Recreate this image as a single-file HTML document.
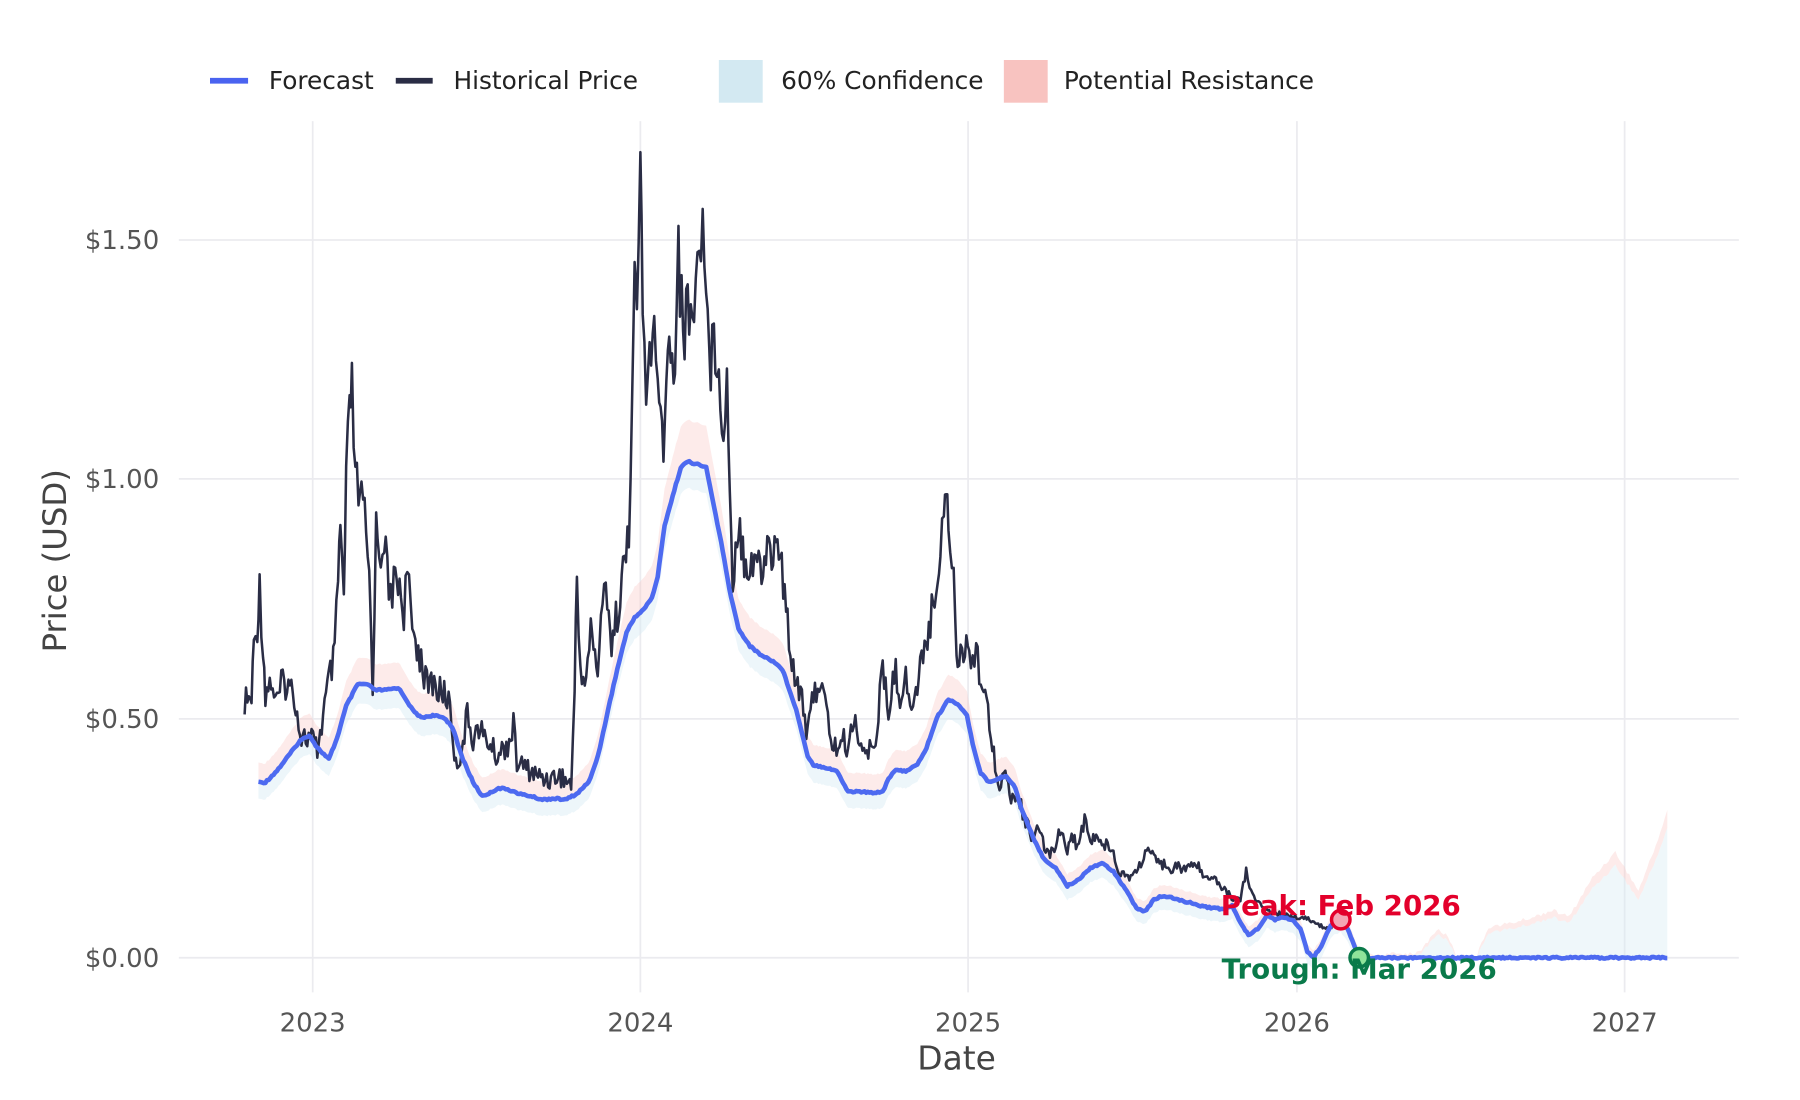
<!DOCTYPE html>
<html><head><meta charset="utf-8"><style>
html,body{margin:0;padding:0;background:#fff;}
svg{display:block;}
text{font-family:"DejaVu Sans","Liberation Sans",sans-serif;}
</style></head><body>
<svg id="s" width="1800" height="1100" viewBox="0 0 1560 953.3" preserveAspectRatio="none" xmlns="http://www.w3.org/2000/svg">
<rect width="1560" height="953.3" fill="#fff"/>
<g stroke="#ebebef" stroke-width="1.5">
<line x1="155" x2="1507" y1="830" y2="830"/><line x1="155" x2="1507" y1="623" y2="623"/>
<line x1="155" x2="1507" y1="415" y2="415"/><line x1="155" x2="1507" y1="208" y2="208"/>
<line x1="271" x2="271" y1="105" y2="860"/><line x1="555" x2="555" y1="105" y2="860"/>
<line x1="839" x2="839" y1="105" y2="860"/><line x1="1124" x2="1124" y1="105" y2="860"/>
<line x1="1408" x2="1408" y1="105" y2="860"/>
</g>
<g id="bands"></g>
<g id="lines"></g>
<g font-size="22.5" fill="#555" text-anchor="end">
<text x="138" y="838">$0.00</text><text x="138" y="631">$0.50</text>
<text x="138" y="423">$1.00</text><text x="138" y="216">$1.50</text>
</g>
<g font-size="22.5" fill="#555" text-anchor="middle">
<text x="271" y="894">2023</text><text x="555" y="894">2024</text><text x="839" y="894">2025</text>
<text x="1124" y="894">2026</text><text x="1408" y="894">2027</text>
</g>
<text x="829" y="927" font-size="28.5" fill="#444" text-anchor="middle">Date</text>
<text transform="translate(57,486) rotate(-90)" font-size="28" fill="#444" text-anchor="middle">Price (USD)</text>
<g font-size="21.5" fill="#222">
<line x1="182" x2="215" y1="70" y2="70" stroke="#4a63f0" stroke-width="5"/><text x="233" y="77">Forecast</text>
<line x1="343" x2="375" y1="70" y2="70" stroke="#2a2d45" stroke-width="5"/><text x="393" y="77">Historical Price</text>
<rect x="623" y="52" width="38" height="37" fill="#d3e9f2"/><text x="677" y="77">60% Confidence</text>
<rect x="870" y="52" width="38" height="37" fill="#f8c3c0"/><text x="922" y="77">Potential Resistance</text>
</g>
<g id="marks"></g>
</svg>
<script>
function rnd(s){var x=Math.sin(s*12.9898)*43758.5453;return x-Math.floor(x);}
function interp(k,step){var o=[];for(var i=0;i<k.length-1;i++){var a=k[i],b=k[i+1];var n=Math.max(1,Math.round((b[0]-a[0])/step));for(var j=0;j<n;j++){var t=j/n;o.push([a[0]+(b[0]-a[0])*t,a[1]+(b[1]-a[1])*t]);}}o.push(k[k.length-1]);return o;}
function pth(p){return "M"+p.map(function(q){return q[0].toFixed(1)+","+q[1].toFixed(1)}).join("L");}
var H=[[212,608],[218,606],[220,560],[223,540],[225,510],[228,560],[230,600],[235,590],[240,610],[245,590],[250,595],[255,600],[260,635],[265,640],[270,640],[275,650],[280,620],[285,590],[290,570],[293,500],[295,460],[298,520],[300,420],[303,360],[305,335],[308,420],[312,430],[316,450],[320,500],[323,590],[326,460],[330,480],[333,460],[337,520],[340,510],[345,500],[350,530],[353,490],[356,540],[360,555],[365,570],[370,595],[375,590],[380,600],[385,600],[390,610],[395,665],[400,650],[405,620],[410,640],[415,630],[420,640],[425,645],[430,655],[435,650],[440,645],[445,630],[448,660],[455,665],[465,672],[475,675],[485,672],[495,680],[498,600],[500,500],[503,580],[508,590],[512,545],[518,580],[525,495],[530,560],[535,530],[540,495],[545,470],[548,310],[550,260],[552,260],[555,140],[557,270],[560,350],[563,300],[567,290],[570,350],[575,380],[580,300],[585,310],[588,210],[592,300],[596,260],[600,270],[603,260],[606,200],[609,185],[612,260],[616,310],[620,300],[623,300],[627,390],[630,330],[635,500],[640,450],[645,480],[650,490],[655,480],[660,500],[665,470],[670,480],[675,470],[680,520],[685,560],[690,590],[695,600],[700,640],[705,600],[710,590],[715,610],[720,640],[725,650],[730,640],[735,650],[740,620],[745,640],[750,655],[755,650],[760,630],[765,580],[770,620],[775,580],[780,600],[785,590],[790,610],[795,600],[800,560],[805,545],[810,520],[815,470],[818,430],[820,420],[822,460],[825,480],[828,540],[830,570],[835,560],[840,560],[843,570],[846,555],[850,590],[855,610],[860,640],[865,680],[870,670],[875,690],[880,690],[885,700],[890,715],[895,725],[900,720],[905,735],[910,740],[915,730],[920,720],[925,735],[930,725],[935,735],[940,708],[945,730],[950,725],[955,735],[960,728],[965,740],[970,755],[975,758],[980,760],[985,755],[990,745],[995,735],[1000,745],[1005,750],[1010,748],[1015,752],[1020,750],[1025,755],[1030,750],[1035,748],[1040,753],[1045,760],[1050,758],[1055,765],[1060,770],[1065,775],[1070,780],[1075,778],[1080,755],[1083,770],[1088,780],[1095,785],[1100,790],[1110,792],[1120,795],[1130,795],[1140,800],[1150,805],[1155,803]];
var F=[[224,678],[230,678],[240,668],[250,655],[260,642],[268,637],[275,648],[285,658],[292,640],[300,612],[310,593],[318,593],[325,598],[335,598],[345,596],[350,603],[358,616],[365,622],[375,620],[385,622],[392,630],[400,655],[410,678],[418,690],[425,687],[432,683],[440,684],[450,688],[460,690],[470,693],[480,692],[490,693],[500,688],[510,678],[515,665],[520,648],[527,615],[535,580],[543,548],[550,535],[558,528],[565,518],[570,500],[576,455],[583,430],[590,405],[596,400],[603,402],[612,405],[617,430],[625,470],[632,510],[640,545],[650,560],[660,568],[670,573],[678,580],[685,600],[690,615],[695,635],[700,655],[705,663],[715,665],[725,668],[735,686],[745,686],[755,687],[765,686],[770,675],[775,668],[785,668],[795,663],[803,648],[812,622],[822,606],[830,610],[838,620],[843,645],[850,670],[857,678],[865,675],[872,672],[880,683],[885,700],[895,725],[905,745],[915,752],[925,768],[935,762],[945,752],[955,748],[965,755],[975,770],[985,787],[992,790],[1000,780],[1005,777],[1015,778],[1030,782],[1045,786],[1060,788],[1068,785],[1075,800],[1082,810],[1090,805],[1098,793],[1105,797],[1112,795],[1120,797],[1127,805],[1133,825],[1138,830],[1145,820],[1150,808],[1155,800],[1162,797],[1168,805],[1172,815],[1178,830],[1445,830]];
var hp=interp(H,1.3).map(function(q,i){var a=(830-q[1])*0.06;return [q[0],q[1]+(rnd(i+1)-0.5)*2*a];});
var fp=interp(F,1.5).map(function(q,i){return [q[0],q[1]+(rnd(i+7)-0.5)*1.5];});
var fut=fp.filter(function(q){return q[0]<=1180;});
var up=fut.map(function(q){return [q[0],q[1]-(830-q[1])*0.07-6];});
var mid=fut.map(function(q){return [q[0],q[1]-2];});
var lo=fut.map(function(q){return [q[0],q[1]+(830-q[1])*0.03+10];});
var FB=[[1180,830],[1230,828],[1245,810],[1255,815],[1262,830],[1280,830],[1290,808],[1310,805],[1330,800],[1345,795],[1360,800],[1380,770],[1400,750],[1410,765],[1420,780],[1435,745],[1445,718]];
var fb=interp(FB,2).map(function(q,i){return [q[0],q[1]+(rnd(i+99)-0.5)*3];});
var fbu=fb.map(function(q){return [q[0],q[1]-(830-q[1])*0.12-2];});
var bands=document.getElementById("bands");
function poly(a,b,fill,op){var p=a.concat(b.slice().reverse());var e=document.createElementNS("http://www.w3.org/2000/svg","path");e.setAttribute("d",pth(p)+"Z");e.setAttribute("fill",fill);e.setAttribute("fill-opacity",op);bands.appendChild(e);}
poly(up,mid,"#f9c6c3",0.35);
poly(mid,lo,"#d6ebf3",0.45);
poly(fbu,fb,"#f9c6c3",0.35);
poly(fb,[[1180,830],[1445,830]],"#d6ebf3",0.4);
var L=document.getElementById("lines");
function ln(p,c,w){var e=document.createElementNS("http://www.w3.org/2000/svg","path");e.setAttribute("d",pth(p));e.setAttribute("fill","none");e.setAttribute("stroke",c);e.setAttribute("stroke-width",w);e.setAttribute("stroke-linejoin","round");L.appendChild(e);}
ln(hp,"#2a2d45",2.2);
ln(fp,"#4d6af0",4);
document.getElementById("marks").innerHTML=
'<circle cx="1162" cy="797" r="8" fill="#f4a6b4" stroke="#e3002b" stroke-width="3"/>'+
'<circle cx="1178" cy="830" r="8" fill="#8fe39a" stroke="#0a7a4a" stroke-width="3"/>'+
'<text x="1162" y="793" font-size="24" font-weight="bold" fill="#e3002b" text-anchor="middle">Peak: Feb 2026</text>'+
'<text x="1178" y="848" font-size="24" font-weight="bold" fill="#0a7a4a" text-anchor="middle">Trough: Mar 2026</text>';
</script>
</body></html>
